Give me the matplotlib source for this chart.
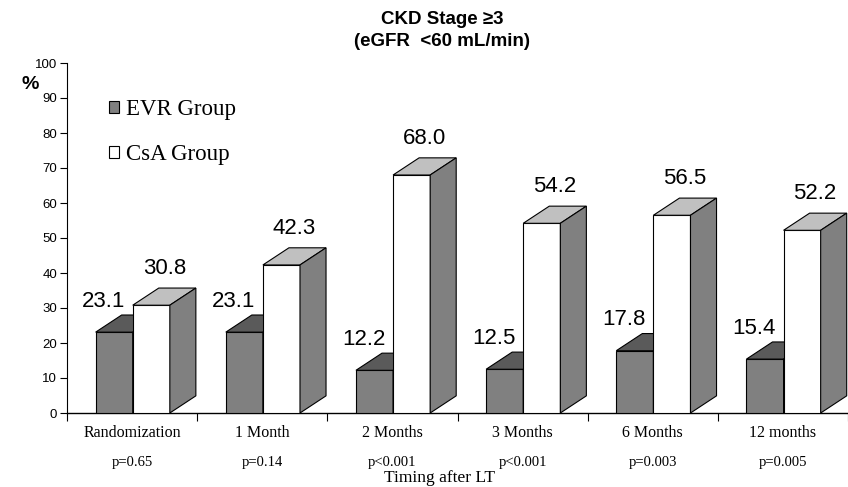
import matplotlib
matplotlib.use("Agg")
import matplotlib.pyplot as plt
from matplotlib.patches import Polygon, Patch

# data
categories = ["Randomization", "1 Month", "2 Months", "3 Months", "6 Months", "12 months"]
p_values = ["p=0.65", "p=0.14", "p<0.001", "p<0.001", "p=0.003", "p=0.005"]
evr = [23.1, 23.1, 12.2, 12.5, 17.8, 15.4]
csa = [30.8, 42.3, 68.0, 54.2, 56.5, 52.2]

narrow = ["Liberation Sans Narrow", "Liberation Sans", "DejaVu Sans"]
sans = ["Liberation Sans", "DejaVu Sans"]
serif = ["Liberation Serif", "DejaVu Serif"]

fig = plt.figure(figsize=(8.48, 4.87), dpi=100)
ax = fig.add_axes([67 / 848, 74 / 487, 781 / 848, 350 / 487])

bar_w = 0.285
dx, dy = 0.2, 4.9


def draw_bar(x0, v, front, top, side):
    x1 = x0 + bar_w
    ax.add_patch(Polygon([(x0, 0), (x1, 0), (x1, v), (x0, v)], closed=True,
                         facecolor=front, edgecolor="black", lw=0.8, zorder=3))
    ax.add_patch(Polygon([(x0, v), (x1, v), (x1 + dx, v + dy), (x0 + dx, v + dy)],
                         closed=True, facecolor=top, edgecolor="black", lw=0.8, zorder=3))
    ax.add_patch(Polygon([(x1, 0), (x1 + dx, dy), (x1 + dx, v + dy), (x1, v)],
                         closed=True, facecolor=side, edgecolor="black", lw=0.8, zorder=3))


for i in range(len(categories)):
    xe = i + 0.22
    xc = xe + bar_w
    draw_bar(xe, evr[i], "#808080", "#5a5a5a", "#808080")
    draw_bar(xc, csa[i], "white", "#c0c0c0", "#808080")
    ax.text(xe + 0.06, evr[i] + 8.8, f"{evr[i]:.1f}", ha="center", va="center",
            fontsize=16, family=sans)
    ax.text(xc + bar_w / 2 + 0.1, csa[i] + 10.5, f"{csa[i]:.1f}", ha="center",
            va="center", fontsize=16, family=sans)
    ax.text(i + 0.5, -5.8, categories[i], ha="center", va="center",
            fontsize=11.5, family=serif)
    ax.text(i + 0.5, -14.2, p_values[i], ha="center", va="center",
            fontsize=10.5, family=serif)

ax.set_xlim(0, 781 / 130.5)
ax.set_ylim(0, 100)
ax.set_xticks(range(0, 7))
ax.set_xticklabels([])
ax.set_yticks(range(0, 101, 10))
ax.set_yticklabels([str(t) for t in range(0, 101, 10)], family=narrow, fontsize=9.5)
ax.tick_params(axis="both", direction="out", length=5, width=0.8, pad=2)
ax.tick_params(axis="x", length=6)
for s in ["top", "right"]:
    ax.spines[s].set_visible(False)
ax.spines["left"].set_linewidth(0.8)
ax.spines["bottom"].set_linewidth(1.0)

ax.text(2.86, -18.6, "Timing after LT", ha="center", va="center",
        fontsize=12.5, family=serif)

ax.text(-0.28, 93.8, "%", ha="center", va="center", fontsize=14,
        fontweight="bold", family=sans)

handles = [Patch(facecolor="#808080", edgecolor="black", lw=0.8),
           Patch(facecolor="white", edgecolor="black", lw=0.8)]
leg = ax.legend(handles, ["EVR Group", "CsA Group"], loc="upper left",
                bbox_to_anchor=(0.027, 0.955), frameon=False,
                prop={"family": serif, "size": 16.5}, handlelength=0.45,
                handleheight=0.45, handletextpad=0.3, labelspacing=1.05)

fig.text(442 / 848, 1 - 19 / 487, "CKD Stage ≥3", ha="center", va="center",
         fontsize=13.5, fontweight="bold", family=narrow)
fig.text(442 / 848, 1 - 42 / 487, "(eGFR  <60 mL/min)", ha="center", va="center",
         fontsize=13.5, fontweight="bold", family=narrow)

fig.savefig("out.png", dpi=100)
